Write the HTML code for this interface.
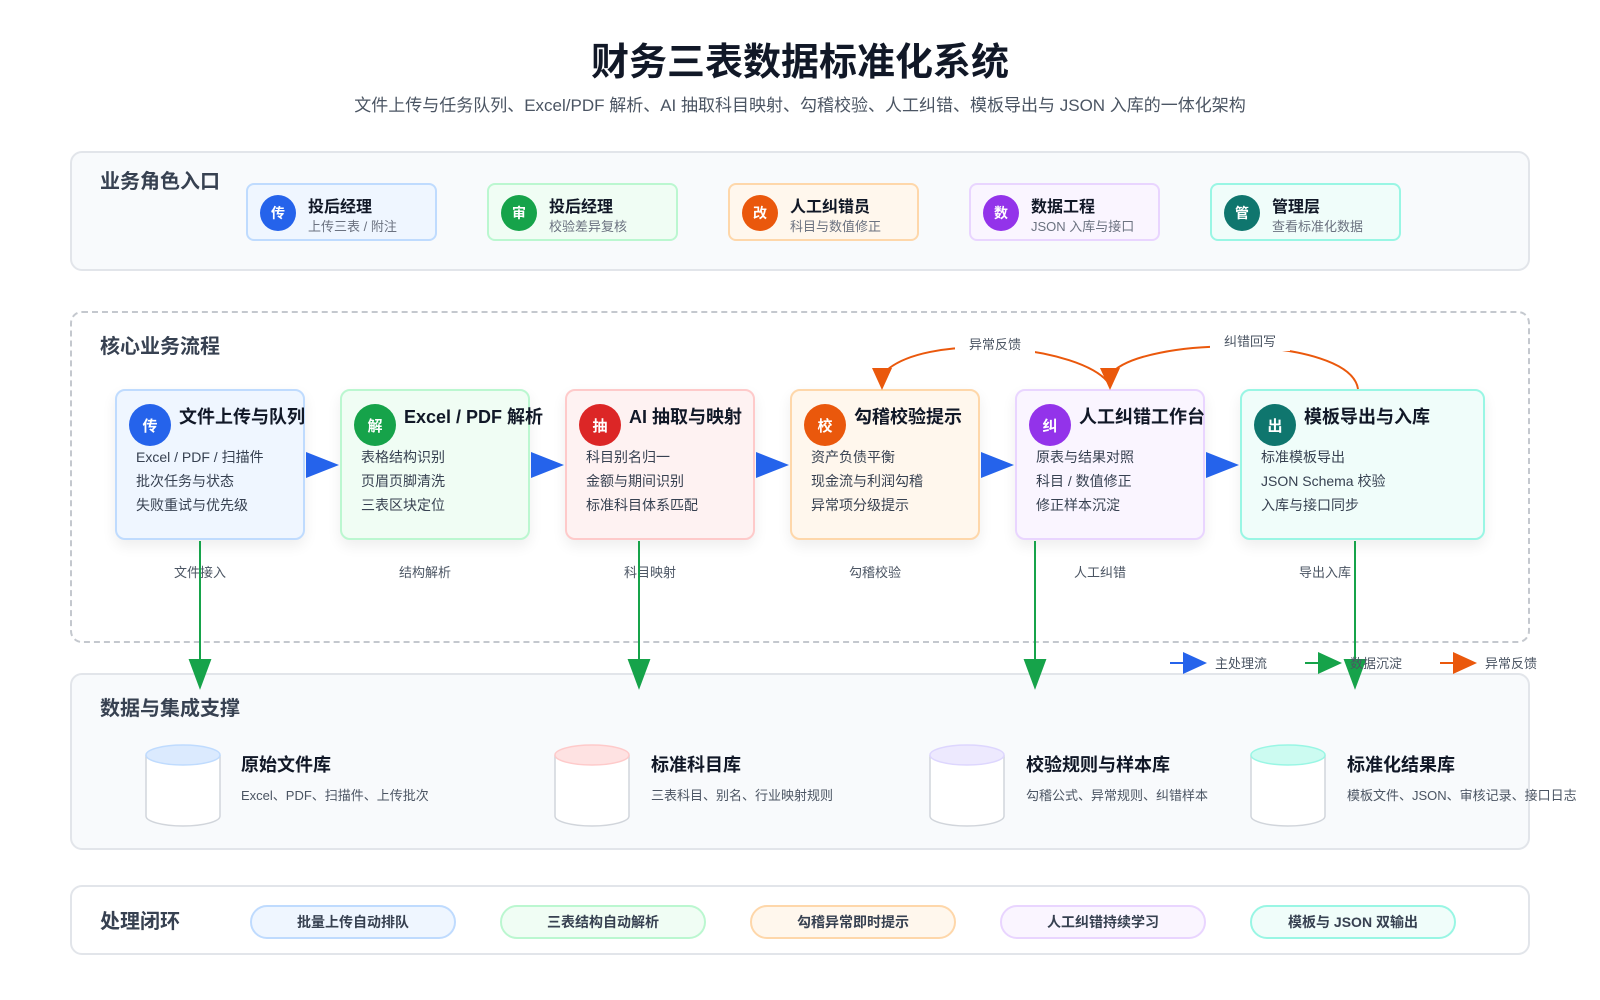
<!DOCTYPE html>
<html><head><meta charset="utf-8"><style>
*{margin:0;padding:0;box-sizing:border-box}
body{width:1600px;height:1000px;background:#fff;position:relative;overflow:hidden;font-family:"Liberation Sans","Noto Sans CJK SC",sans-serif;color:#1f2937}
.a{position:absolute}
.panel{position:absolute;left:70px;width:1460px;border:2px solid #e2e5ea;border-radius:12px;background:#f8fafc}
.ptitle{position:absolute;left:100px;font-size:20px;font-weight:bold;color:#374151;line-height:24px}
.role{position:absolute;top:183px;width:191px;height:58px;border:2px solid;border-radius:8px}
.circ{position:absolute;border-radius:50%;color:#fff;font-weight:bold;display:flex;align-items:center;justify-content:center}
.role .circ{left:12px;top:10px;width:36px;height:36px;font-size:14px}
.role .t{position:absolute;left:60px;top:8px;font-size:16px;font-weight:bold;color:#111827}
.role .s{position:absolute;left:60px;top:31px;font-size:13px;color:#6b7280}
.box{position:absolute;top:389px;height:151px;border:2px solid;border-radius:10px;box-shadow:0 6px 14px rgba(0,0,0,0.07)}
.box .circ{left:12px;top:13px;width:42px;height:42px;font-size:15px}
.box .t{position:absolute;left:62px;top:12px;font-size:18px;font-weight:bold;color:#111827;white-space:nowrap}
.box .l{position:absolute;left:19px;font-size:14px;color:#374151;white-space:nowrap}
.lab{position:absolute;top:562px;width:96px;height:22px;background:#fff;font-size:13px;color:#4b5563;text-align:center;line-height:22px;margin-left:-48px}
.dt{position:absolute;top:751px;font-size:18px;font-weight:bold;color:#111827}
.ds{position:absolute;top:785px;font-size:13px;color:#4b5563;white-space:nowrap}
.pill{position:absolute;top:905px;width:206px;height:34px;border:2px solid;border-radius:17px;text-align:center;line-height:30px;font-size:14px;font-weight:bold;color:#374151}
</style></head><body>
<div class="a" style="left:0;width:1600px;top:38px;text-align:center;font-size:38px;font-weight:bold;color:#111827;line-height:50px">财务三表数据标准化系统</div>
<div class="a" style="left:0;width:1600px;top:95px;text-align:center;font-size:17px;color:#4b5563;line-height:22px">文件上传与任务队列、Excel/PDF 解析、AI 抽取科目映射、勾稽校验、人工纠错、模板导出与 JSON 入库的一体化架构</div>

<div class="panel" style="top:151px;height:120px"></div>
<div class="ptitle" style="top:170px">业务角色入口</div>
<div class="role" style="left:246px;background:#eff6ff;border-color:#bfdbfe"><div class="circ" style="background:#2563eb">传</div><div class="t">投后经理</div><div class="s">上传三表 / 附注</div></div>
<div class="role" style="left:487px;background:#f0fdf4;border-color:#bbf7d0"><div class="circ" style="background:#16a34a">审</div><div class="t">投后经理</div><div class="s">校验差异复核</div></div>
<div class="role" style="left:728px;background:#fff7ed;border-color:#fed7aa"><div class="circ" style="background:#ea580c">改</div><div class="t">人工纠错员</div><div class="s">科目与数值修正</div></div>
<div class="role" style="left:969px;background:#faf5ff;border-color:#e9d5ff"><div class="circ" style="background:#9333ea">数</div><div class="t">数据工程</div><div class="s">JSON 入库与接口</div></div>
<div class="role" style="left:1210px;background:#f0fdfa;border-color:#99f6e4"><div class="circ" style="background:#0f766e">管</div><div class="t">管理层</div><div class="s">查看标准化数据</div></div>

<div class="a" style="left:70px;top:311px;width:1460px;height:332px;border:2px dashed #c4c8ce;border-radius:12px"></div>
<div class="ptitle" style="top:335px">核心业务流程</div>

<div class="panel" style="top:673px;height:177px"></div>
<div class="ptitle" style="top:697px">数据与集成支撑</div>

<div class="box" style="left:115px;width:190px;background:#eff6ff;border-color:#bfdbfe"><div class="circ" style="background:#2563eb">传</div><div class="t">文件上传与队列</div><div class="l" style="top:56px">Excel / PDF / 扫描件</div><div class="l" style="top:80px">批次任务与状态</div><div class="l" style="top:104px">失败重试与优先级</div></div>
<div class="box" style="left:340px;width:190px;background:#f0fdf4;border-color:#bbf7d0"><div class="circ" style="background:#16a34a">解</div><div class="t">Excel / PDF 解析</div><div class="l" style="top:56px">表格结构识别</div><div class="l" style="top:80px">页眉页脚清洗</div><div class="l" style="top:104px">三表区块定位</div></div>
<div class="box" style="left:565px;width:190px;background:#fef2f2;border-color:#fecaca"><div class="circ" style="background:#dc2626">抽</div><div class="t">AI 抽取与映射</div><div class="l" style="top:56px">科目别名归一</div><div class="l" style="top:80px">金额与期间识别</div><div class="l" style="top:104px">标准科目体系匹配</div></div>
<div class="box" style="left:790px;width:190px;background:#fff7ed;border-color:#fed7aa"><div class="circ" style="background:#ea580c">校</div><div class="t">勾稽校验提示</div><div class="l" style="top:56px">资产负债平衡</div><div class="l" style="top:80px">现金流与利润勾稽</div><div class="l" style="top:104px">异常项分级提示</div></div>
<div class="box" style="left:1015px;width:190px;background:#faf5ff;border-color:#e9d5ff"><div class="circ" style="background:#9333ea">纠</div><div class="t">人工纠错工作台</div><div class="l" style="top:56px">原表与结果对照</div><div class="l" style="top:80px">科目 / 数值修正</div><div class="l" style="top:104px">修正样本沉淀</div></div>
<div class="box" style="left:1240px;width:245px;background:#f0fdfa;border-color:#99f6e4"><div class="circ" style="background:#0f766e">出</div><div class="t">模板导出与入库</div><div class="l" style="top:56px">标准模板导出</div><div class="l" style="top:80px">JSON Schema 校验</div><div class="l" style="top:104px">入库与接口同步</div></div>

<div class="lab" style="left:200px">文件接入</div>
<div class="lab" style="left:425px">结构解析</div>
<div class="lab" style="left:650px">科目映射</div>
<div class="lab" style="left:875px">勾稽校验</div>
<div class="lab" style="left:1100px">人工纠错</div>
<div class="lab" style="left:1325px">导出入库</div>

<svg class="a" style="left:0;top:0" width="1600" height="1000">
<g fill="#2563eb">
<polygon points="306,452 339,465 306,478"/><polygon points="531,452 564,465 531,478"/><polygon points="756,452 789,465 756,478"/><polygon points="981,452 1014,465 981,478"/><polygon points="1206,452 1239,465 1206,478"/>
</g>
<g stroke="#16a34a" stroke-width="2" fill="#16a34a">
<line x1="200" y1="541" x2="200" y2="665"/><polygon points="190,660 210,660 200,687"/>
<line x1="639" y1="541" x2="639" y2="665"/><polygon points="629,660 649,660 639,687"/>
<line x1="1035" y1="541" x2="1035" y2="665"/><polygon points="1025,660 1045,660 1035,687"/>
<line x1="1355" y1="541" x2="1355" y2="665"/><polygon points="1345,660 1365,660 1355,687"/>
</g>
<g stroke="#ea580c" stroke-width="2" fill="none">
<path d="M1110,385 C1085,345 920,330 882,375"/>
<path d="M1358,389 C1350,335 1140,335 1110,375"/>
</g>
<g fill="#ea580c"><polygon points="872,368 892,368 882,390"/><polygon points="1100,368 1120,368 1110,390"/></g>
<rect x="955" y="334" width="80" height="20" fill="#fff"/>
<rect x="1210" y="331" width="80" height="20" fill="#fff"/>
<text x="995" y="349" font-size="13" fill="#4b5563" text-anchor="middle" font-family="Liberation Sans,Noto Sans CJK SC,sans-serif">异常反馈</text>
<text x="1250" y="346" font-size="13" fill="#4b5563" text-anchor="middle" font-family="Liberation Sans,Noto Sans CJK SC,sans-serif">纠错回写</text>
<g font-size="13" fill="#4b5563" font-family="Liberation Sans,Noto Sans CJK SC,sans-serif">
<line x1="1170" y1="663" x2="1195" y2="663" stroke="#2563eb" stroke-width="2"/><polygon points="1183,652 1207,663 1183,674" fill="#2563eb"/><text x="1215" y="668">主处理流</text>
<line x1="1305" y1="663" x2="1330" y2="663" stroke="#16a34a" stroke-width="2"/><polygon points="1318,652 1342,663 1318,674" fill="#16a34a"/><text x="1350" y="668">数据沉淀</text>
<line x1="1440" y1="663" x2="1465" y2="663" stroke="#ea580c" stroke-width="2"/><polygon points="1453,652 1477,663 1453,674" fill="#ea580c"/><text x="1485" y="668">异常反馈</text>
</g>
<g stroke-width="1.5">
<g transform="translate(145,745)"><path d="M1,10 V71 A37,10 0 0 0 75,71 V10" fill="#fff" stroke="#d1d5db"/><ellipse cx="38" cy="10" rx="37" ry="10" fill="#dbeafe" stroke="#bfdbfe"/></g>
<g transform="translate(554,745)"><path d="M1,10 V71 A37,10 0 0 0 75,71 V10" fill="#fff" stroke="#d1d5db"/><ellipse cx="38" cy="10" rx="37" ry="10" fill="#fee2e2" stroke="#fecaca"/></g>
<g transform="translate(929,745)"><path d="M1,10 V71 A37,10 0 0 0 75,71 V10" fill="#fff" stroke="#d1d5db"/><ellipse cx="38" cy="10" rx="37" ry="10" fill="#ede9fe" stroke="#ddd6fe"/></g>
<g transform="translate(1250,745)"><path d="M1,10 V71 A37,10 0 0 0 75,71 V10" fill="#fff" stroke="#d1d5db"/><ellipse cx="38" cy="10" rx="37" ry="10" fill="#ccfbf1" stroke="#99f6e4"/></g>
</g>
</svg>

<div class="dt" style="left:241px">原始文件库</div><div class="ds" style="left:241px">Excel、PDF、扫描件、上传批次</div>
<div class="dt" style="left:651px">标准科目库</div><div class="ds" style="left:651px">三表科目、别名、行业映射规则</div>
<div class="dt" style="left:1026px">校验规则与样本库</div><div class="ds" style="left:1026px">勾稽公式、异常规则、纠错样本</div>
<div class="dt" style="left:1347px">标准化结果库</div><div class="ds" style="left:1347px">模板文件、JSON、审核记录、接口日志</div>

<div class="panel" style="top:885px;height:70px;background:#fff"></div>
<div class="ptitle" style="top:910px">处理闭环</div>
<div class="pill" style="left:250px;background:#eff6ff;border-color:#bfdbfe">批量上传自动排队</div>
<div class="pill" style="left:500px;background:#f0fdf4;border-color:#bbf7d0">三表结构自动解析</div>
<div class="pill" style="left:750px;background:#fff7ed;border-color:#fed7aa">勾稽异常即时提示</div>
<div class="pill" style="left:1000px;background:#faf5ff;border-color:#e9d5ff">人工纠错持续学习</div>
<div class="pill" style="left:1250px;background:#f0fdfa;border-color:#99f6e4">模板与 JSON 双输出</div>
</body></html>
